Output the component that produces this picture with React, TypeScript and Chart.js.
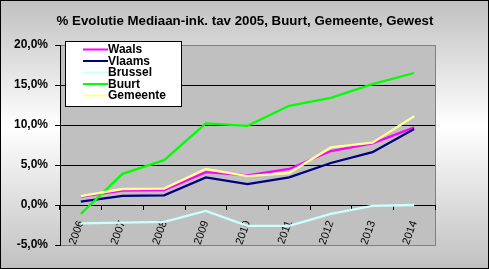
import React, { useEffect, useRef } from "react";
import { Chart, registerables } from "chart.js";

Chart.register(...registerables);

const categories = ["2006", "2007", "2008", "2009", "2010", "2011", "2012", "2013", "2014"];
const waals = [1.05, 1.8, 1.85, 4.1, 3.7, 4.5, 6.75, 7.7, 9.7];
const vlaams = [0.42, 1.15, 1.2, 3.45, 2.6, 3.45, 5.25, 6.6, 9.5];
const brussel = [-2.3, -2.2, -2.1, -0.75, -2.6, -2.6, -1.1, -0.1, 0.0];
const buurt = [-1.1, 3.9, 5.6, 10.2, 9.9, 12.4, 13.4, 15.1, 16.5];
const gemeente = [1.1, 2.0, 2.05, 4.5, 3.6, 4.0, 7.2, 7.8, 11.1];
const seriesNames = ["Waals", "Vlaams", "Brussel", "Buurt", "Gemeente"];
const seriesColors = ["#FF00FF", "#000080", "#CCFFFF", "#00FF00", "#FFFF99"];
const yTicks = [-5, 0, 5, 10, 15, 20];
const titleText = "% Evolutie Mediaan-ink. tav 2005, Buurt, Gemeente, Gewest";

const FONT = "'Liberation Sans', Arial, sans-serif";

const decorPlugin = {
  id: "decor",
  beforeDraw(chart: any) {
    const { ctx, width, height, chartArea } = chart;
    ctx.save();
    const g = ctx.createLinearGradient(0, 0, 0, height);
    g.addColorStop(0, "#c0c0c0");
    g.addColorStop(0.47, "#ffffff");
    g.addColorStop(1, "#c0c0c0");
    ctx.fillStyle = g;
    ctx.fillRect(0, 0, width, height);
    ctx.fillStyle = "#c0c0c0";
    ctx.fillRect(chartArea.left, chartArea.top, chartArea.right - chartArea.left, chartArea.bottom - chartArea.top);
    ctx.strokeStyle = "#808080";
    ctx.lineWidth = 1;
    ctx.strokeRect(chartArea.left + 0.5, chartArea.top + 0.5, chartArea.right - chartArea.left, chartArea.bottom - chartArea.top);
    ctx.fillStyle = "#000";
    ctx.font = "bold 13.3px " + FONT;
    ctx.textAlign = "center";
    ctx.textBaseline = "middle";
    ctx.fillText(titleText, 245, 21);
    ctx.restore();
  },
  afterDraw(chart: any) {
    const { ctx, width, height } = chart;
    ctx.save();
    ctx.fillStyle = "#fff";
    ctx.fillRect(65, 41, 116, 65);
    ctx.strokeStyle = "#000";
    ctx.lineWidth = 1;
    ctx.strokeRect(65.5, 41.5, 116, 65);
    ctx.font = "bold 12px " + FONT;
    ctx.textAlign = "left";
    ctx.textBaseline = "middle";
    chart.data.datasets.forEach((ds: any, i: number) => {
      const y = 49.5 + i * 11.5;
      ctx.strokeStyle = ds.borderColor;
      ctx.lineWidth = 2;
      ctx.beginPath();
      ctx.moveTo(83, y);
      ctx.lineTo(108, y);
      ctx.stroke();
      ctx.fillStyle = "#000";
      ctx.fillText(ds.label, 108, y + 0.5);
    });
    ctx.strokeStyle = "#000";
    ctx.lineWidth = 1;
    ctx.strokeRect(0.5, 0.5, width - 1, height - 1);
    ctx.restore();
  },
};

export default function App() {
  const ref = useRef<HTMLCanvasElement | null>(null);
  useEffect(() => {
    if (!ref.current) return;
    const all = [waals, vlaams, brussel, buurt, gemeente];
    const chart = new Chart(ref.current, {
      type: "line",
      data: {
        labels: categories,
        datasets: all.map((d, i) => ({
          label: seriesNames[i],
          data: d,
          borderColor: seriesColors[i],
          backgroundColor: seriesColors[i],
          borderWidth: 2.3,
          pointRadius: 0,
          tension: 0,
          fill: false,
          order: 4 - i,
        })),
      },
      options: {
        responsive: false,
        animation: false,
        events: [],
        layout: { padding: { top: 45, right: 54, bottom: 24, left: 0 } },
        plugins: { legend: { display: false }, title: { display: false }, tooltip: { enabled: false } },
        scales: {
          x: {
            type: "category",
            offset: true,
            position: { y: 0 } as any,
            z: 1,
            grid: {
              drawOnChartArea: false,
              drawTicks: true,
              tickLength: 4,
              color: "#000",
              offset: true,
            },
            border: { display: true, color: "#000", width: 1 },
            ticks: {
              autoSkip: false,
              minRotation: 70,
              maxRotation: 70,
              padding: 10,
              color: "#000",
              font: { family: FONT, size: 11 },
            },
          },
          y: {
            min: -5,
            max: 20,
            afterFit: (s: any) => {
              s.width = 60;
            },
            afterBuildTicks: (s: any) => {
              s.ticks = yTicks.map((v) => ({ value: v }));
            },
            grid: {
              color: (c: any) => (c.tick && (c.tick.value === 20 || c.tick.value === -5) ? "#808080" : "#000"),
              tickColor: "#000",
              tickLength: 5,
            },
            border: { display: true, color: "#000", width: 1 },
            ticks: {
              padding: 7,
              color: "#000",
              font: { family: FONT, size: 12, weight: "bold" },
              callback: (v: any) => Number(v).toFixed(1).replace(".", ",") + "%",
            },
          },
        },
      },
      plugins: [decorPlugin],
    });
    return () => chart.destroy();
  }, []);
  return (
    <div style={{ position: "fixed", left: 0, top: 0, width: 489, height: 269 }}>
      <canvas ref={ref} width={489} height={269} style={{ display: "block" }} />
    </div>
  );
}
